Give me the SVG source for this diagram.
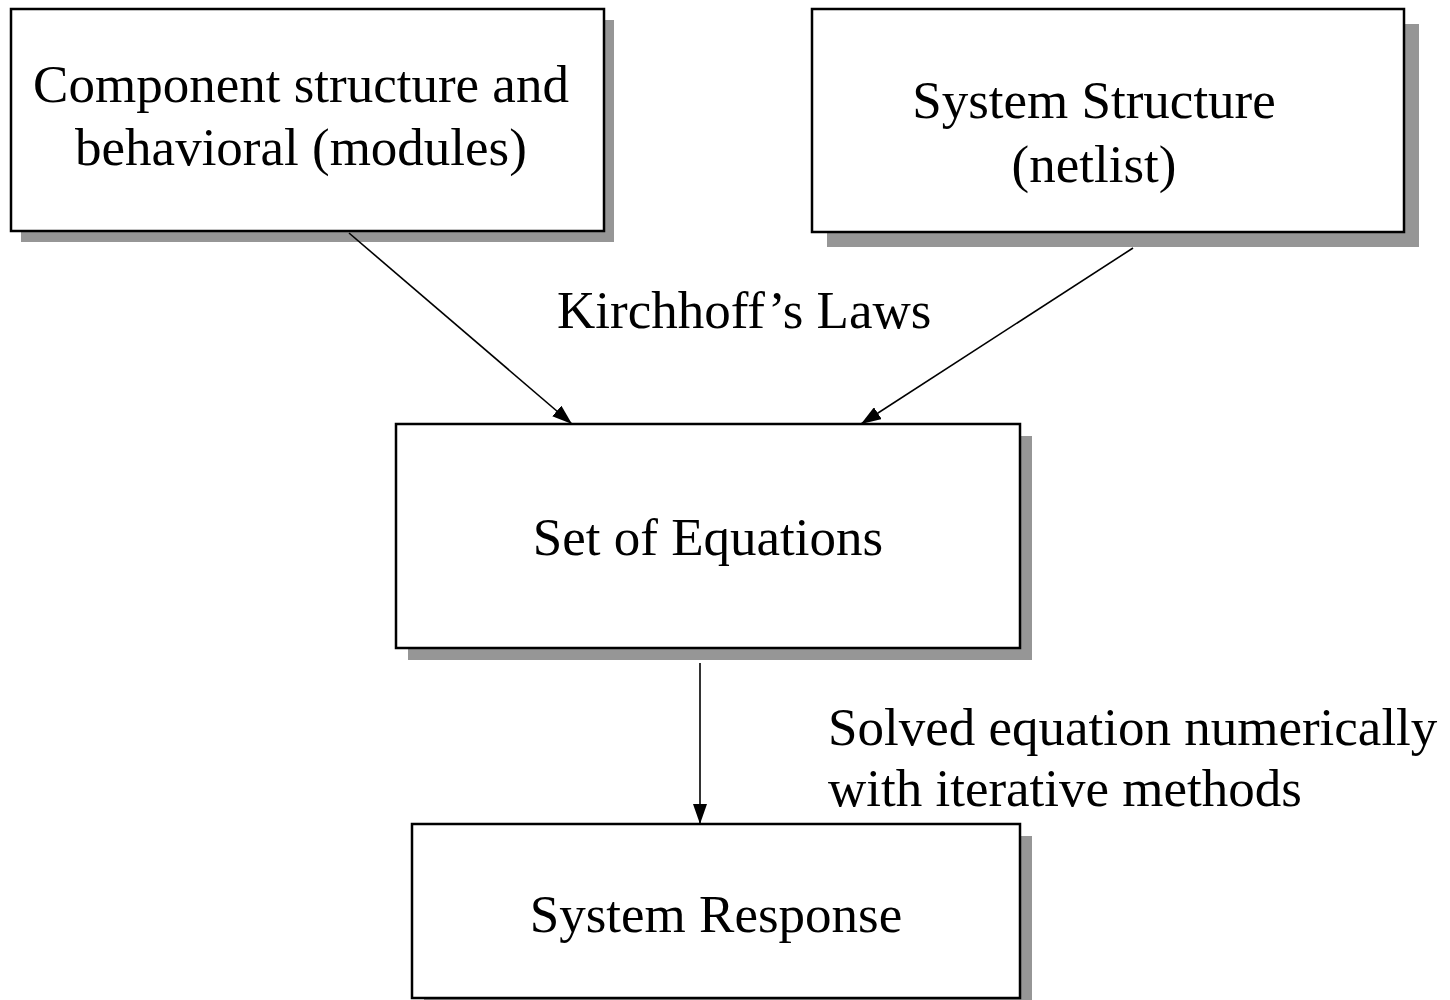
<svg xmlns="http://www.w3.org/2000/svg" width="1450" height="1000" viewBox="0 0 1450 1000">
  <style>
    .box { fill: #ffffff; stroke: #000000; stroke-width: 2.5; }
    .shadow { fill: #969696; stroke: none; }
    .lbl { font-family: "Liberation Serif", "Times New Roman", serif; font-size: 53px; fill: #000000; }
    .mid { text-anchor: middle; }
    .edge { stroke: #000000; stroke-width: 1.6; fill: none; marker-end: url(#arrow); }
  </style>
  <defs>
    <marker id="arrow" viewBox="0 0 20 14" refX="20" refY="7" markerWidth="20" markerHeight="14" markerUnits="userSpaceOnUse" orient="auto">
      <path d="M0,0 L20,7 L0,14 Z" fill="#000000"/>
    </marker>
  </defs>
  <rect width="1450" height="1000" fill="#ffffff"/>

  <g id="node-components">
    <rect class="shadow" x="21" y="20" width="593" height="222"/>
    <rect class="box" x="11" y="9" width="593" height="222"/>
    <text class="lbl mid" x="301" y="102">Component structure and</text>
    <text class="lbl mid" x="301" y="165">behavioral (modules)</text>
  </g>

  <g id="node-system-structure">
    <rect class="shadow" x="827" y="24" width="592" height="223"/>
    <rect class="box" x="812" y="9" width="592" height="223"/>
    <text class="lbl mid" x="1094" y="118">System Structure</text>
    <text class="lbl mid" x="1094" y="182">(netlist)</text>
  </g>

  <g id="node-equations">
    <rect class="shadow" x="408" y="436" width="624" height="224"/>
    <rect class="box" x="396" y="424" width="624" height="224"/>
    <text class="lbl mid" x="708" y="555">Set of Equations</text>
  </g>

  <g id="node-response">
    <rect class="shadow" x="424" y="836" width="608" height="180"/>
    <rect class="box" x="412" y="824" width="608" height="174"/>
    <text class="lbl mid" x="716" y="932">System Response</text>
  </g>

  <g id="connectors">
    <line class="edge" x1="349" y1="233" x2="572" y2="424"/>
    <line class="edge" x1="1133" y1="248" x2="861" y2="424"/>
    <line class="edge" x1="700" y1="663" x2="700" y2="824"/>
  </g>

  <g id="edge-labels">
    <text class="lbl" x="557" y="328">Kirchhoff’s Laws</text>
    <text class="lbl" x="828" y="745">Solved equation numerically</text>
    <text class="lbl" x="828" y="806">with iterative methods</text>
  </g>
</svg>
